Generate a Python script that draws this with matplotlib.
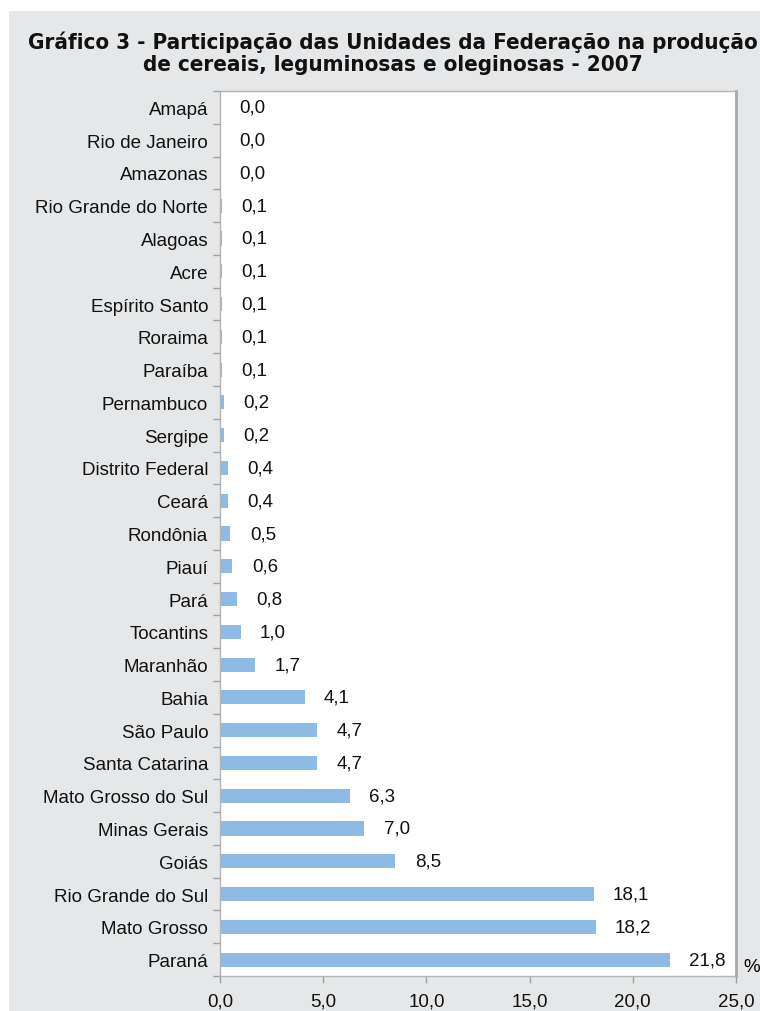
import matplotlib
matplotlib.use("Agg")
import matplotlib.pyplot as plt
from matplotlib import font_manager
from matplotlib.font_manager import FontProperties
from matplotlib.patches import Rectangle

states = ["Amapá", "Rio de Janeiro", "Amazonas", "Rio Grande do Norte", "Alagoas", "Acre",
          "Espírito Santo", "Roraima", "Paraíba", "Pernambuco", "Sergipe", "Distrito Federal",
          "Ceará", "Rondônia", "Piauí", "Pará", "Tocantins", "Maranhão", "Bahia", "São Paulo",
          "Santa Catarina", "Mato Grosso do Sul", "Minas Gerais", "Goiás", "Rio Grande do Sul",
          "Mato Grosso", "Paraná"]
values = [0.0, 0.0, 0.0, 0.1, 0.1, 0.1, 0.1, 0.1, 0.1, 0.2, 0.2, 0.4, 0.4, 0.5, 0.6, 0.8,
          1.0, 1.7, 4.1, 4.7, 4.7, 6.3, 7.0, 8.5, 18.1, 18.2, 21.8]
xticks = [0, 5, 10, 15, 20, 25]
title = "Gráfico 3 - Participação das Unidades da Federação na produção\nde cereais, leguminosas e oleginosas - 2007"

plt.rcParams['font.family'] = ['Liberation Sans', 'DejaVu Sans']

# look for a condensed bold face for the title
cond = None
for f in font_manager.fontManager.ttflist:
    fn = f.fname.lower()
    if ("narrow" in fn or "condensed" in fn) and "bold" in fn and "oblique" not in fn and "italic" not in fn:
        if "liberation" in fn:
            cond = f.fname
            break
        if cond is None:
            cond = f.fname

W, H = 760, 1012
fig = plt.figure(figsize=(W / 100, H / 100), dpi=100, facecolor="white")
fig.patches.append(Rectangle((9 / W, 0), 1 - 9 / W, 1 - 12 / H, transform=fig.transFigure,
                             facecolor="#e6e7e8", edgecolor="none", zorder=-10))

ax = fig.add_axes([220 / W, 1 - 977 / H, (736 - 220) / W, (977 - 92) / H])
ax.set_facecolor("white")
n = len(states)
ypos = list(range(n))
ax.barh(ypos, values, height=0.43, color="#8dbbe6", zorder=2)
ax.set_ylim(n - 0.5, -0.5)
ax.set_xlim(0, 25)

FS = 13.5
for y, v in zip(ypos, values):
    ax.annotate(f"{v:.1f}".replace(".", ","), (v, y), xytext=(14, 0), textcoords="offset points",
                ha="left", va="center", fontsize=FS, color="#111111")

ax.set_yticks(ypos)
ax.set_yticklabels(states, fontsize=FS, color="#111111")
ax.set_yticks([i + 0.5 for i in range(-1, n)], minor=True)
ax.tick_params(axis="y", which="major", length=0, pad=8.5)
ax.tick_params(axis="y", which="minor", length=5, color="#a0a0a0", width=1)
ax.set_xticks(xticks)
ax.set_xticklabels([f"{t:.1f}".replace(".", ",") for t in xticks], fontsize=FS, color="#111111")
ax.tick_params(axis="x", length=5, color="#a0a0a0", width=1, pad=7)

for s in ["left", "bottom", "top"]:
    ax.spines[s].set_color("#b4b4b4")
    ax.spines[s].set_linewidth(1)
ax.spines["right"].set_color("#a8a8a8")
ax.spines["right"].set_linewidth(2)

if cond is not None:
    tprops = FontProperties(fname=cond, size=16)
else:
    tprops = FontProperties(family="Liberation Sans", weight="bold", size=15.5)
fig.text(393 / W, 1 - 53 / H, title, ha="center", va="center", fontproperties=tprops,
         linespacing=1.12, color="#111111")
fig.text(752 / W, 1 - 968 / H, "%", ha="center", va="center", fontsize=FS)

fig.savefig("out.png", dpi=100, facecolor="white")
